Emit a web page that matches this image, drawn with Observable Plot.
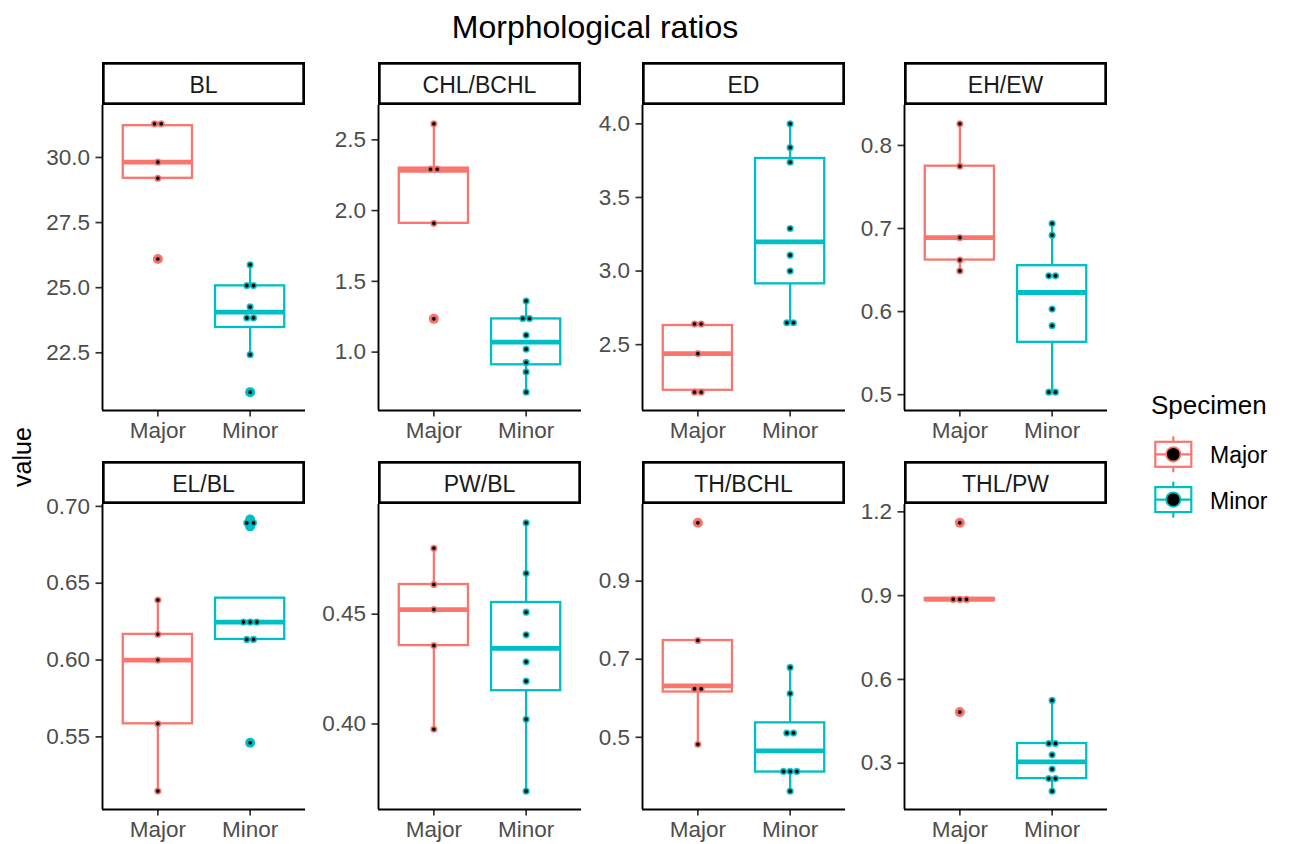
<!DOCTYPE html>
<html><head><meta charset="utf-8">
<script src="https://cdn.jsdelivr.net/npm/d3@7"></script>
<script src="https://cdn.jsdelivr.net/npm/@observablehq/plot@0.6"></script>
<style>
body{margin:0;background:#fff;}
#chart{position:relative;width:1292px;height:844px;background:#fff;font-family:"Liberation Sans",Arial,Helvetica,sans-serif;overflow:hidden}
#chart > .layer{position:absolute;left:0;top:0}
#chart > .panel{position:absolute}
#chart svg{background:transparent;overflow:visible}
</style></head><body><div id="chart"></div>
<script>
// ---------- data ----------
const specimens = ["Major", "Minor"];
const specimenColors = ["#F8766D", "#00BFC4"];
const ratioNames = ["BL", "CHL/BCHL", "ED", "EH/EW", "EL/BL", "PW/BL", "TH/BCHL", "THL/PW"];

const BL_major = [26.1, 29.2, 29.82, 31.22, 31.36];
const BL_minor = [20.99, 22.43, 23.82, 23.86, 24.26, 25.06, 25.1, 25.88];
const CHL_BCHL_major = [1.235, 1.91, 2.285, 2.30, 2.613];
const CHL_BCHL_minor = [0.717, 0.860, 0.927, 1.021, 1.120, 1.232, 1.242, 1.361];
const ED_major = [2.165, 2.19, 2.439, 2.63, 2.65];
const ED_minor = [2.645, 2.653, 3.0, 3.108, 3.289, 3.740, 3.839, 4.0];
const EH_EW_major = [0.649, 0.662, 0.689, 0.775, 0.826];
const EH_EW_minor = [0.503, 0.503, 0.583, 0.603, 0.643, 0.643, 0.692, 0.706];
const EL_BL_major = [0.5147, 0.5585, 0.600, 0.6167, 0.639];
const EL_BL_minor = [0.5462, 0.6134, 0.6134, 0.6247, 0.6247, 0.6247, 0.687, 0.6915];
const PW_BL_major = [0.3976, 0.4357, 0.4521, 0.4635, 0.480];
const PW_BL_minor = [0.3694, 0.4021, 0.4195, 0.4283, 0.4406, 0.4509, 0.4686, 0.4916];
const TH_BCHL_major = [0.482, 0.616, 0.632, 0.748, 1.0495];
const TH_BCHL_minor = [0.362, 0.405, 0.413, 0.42, 0.51, 0.512, 0.612, 0.679];
const THL_PW_major = [0.483, 0.883, 0.887, 0.890, 1.1606];
const THL_PW_minor = [0.200, 0.245, 0.245, 0.279, 0.330, 0.3706, 0.3706, 0.525];

const BL_ticks = ["22.5", "25.0", "27.5", "30.0"];
const CHL_BCHL_ticks = ["1.0", "1.5", "2.0", "2.5"];
const ED_ticks = ["2.5", "3.0", "3.5", "4.0"];
const EH_EW_ticks = ["0.5", "0.6", "0.7", "0.8"];
const EL_BL_ticks = ["0.55", "0.60", "0.65", "0.70"];
const PW_BL_ticks = ["0.40", "0.45"];
const TH_BCHL_ticks = ["0.5", "0.7", "0.9"];
const THL_PW_ticks = ["0.3", "0.6", "0.9", "1.2"];

const chartTitle = "Morphological ratios";
const yLabel = "value";
const legendTitle = "Specimen";

// ---------- layout ----------
const colLeft = [102, 378, 642, 904];
const panelW = 203;
const plotTop = [105, 504];
const panelH = 305;
const stripH = 43;
const mL = 75, mR = 5, mT = 5, mB = 45;
const font = '"Liberation Sans", Arial, Helvetica, sans-serif';

const panels = [
  [BL_major, BL_minor, BL_ticks],
  [CHL_BCHL_major, CHL_BCHL_minor, CHL_BCHL_ticks],
  [ED_major, ED_minor, ED_ticks],
  [EH_EW_major, EH_EW_minor, EH_EW_ticks],
  [EL_BL_major, EL_BL_minor, EL_BL_ticks],
  [PW_BL_major, PW_BL_minor, PW_BL_ticks],
  [TH_BCHL_major, TH_BCHL_minor, TH_BCHL_ticks],
  [THL_PW_major, THL_PW_minor, THL_PW_ticks]
].map(([major, minor, ticks], i) => ({name: ratioNames[i], groups: [major, minor], ticks}));

function boxStats(vals) {
  const s = vals.slice().sort(d3.ascending);
  const q1 = d3.quantile(s, 0.25), med = d3.quantile(s, 0.5), q3 = d3.quantile(s, 0.75);
  const iqr = q3 - q1, lof = q1 - 1.5 * iqr, hif = q3 + 1.5 * iqr;
  const inside = s.filter(v => v >= lof && v <= hif);
  return {q1, med, q3, lo: d3.min(inside), hi: d3.max(inside), outliers: s.filter(v => v < lof || v > hif)};
}
function dotBins(vals, bw) {
  const s = vals.slice().sort(d3.ascending);
  const bins = []; let end = -Infinity;
  for (const v of s) {
    if (v >= end) { bins.push([]); end = v + bw; }
    bins[bins.length - 1].push(v);
  }
  return bins.map(b => ({center: (b[0] + b[b.length - 1]) / 2, n: b.length}));
}

const chart = document.getElementById("chart");

// background layer: title, strips, y label, legend
const W = 1292, H = 844;
const layer = d3.create("svg").attr("class", "layer").attr("width", W).attr("height", H)
  .style("font-family", font);
layer.append("text").attr("x", 595).attr("y", 38).attr("text-anchor", "middle")
  .attr("font-size", 32).attr("fill", "#000").text(chartTitle);
layer.append("text").attr("transform", "translate(31,457) rotate(-90)").attr("text-anchor", "middle")
  .attr("font-size", 25).attr("fill", "#000").text(yLabel);

panels.forEach((p, i) => {
  const col = i % 4, row = Math.floor(i / 4);
  const x0 = colLeft[col], y0 = plotTop[row] - stripH;
  const sw = 2.7;
  layer.append("rect").attr("x", x0 + sw / 2).attr("y", y0 + sw / 2)
    .attr("width", panelW - sw).attr("height", stripH - sw)
    .attr("fill", "#fff").attr("stroke", "#000").attr("stroke-width", sw);
  layer.append("text").attr("x", x0 + panelW / 2).attr("y", y0 + stripH / 2 + 1)
    .attr("text-anchor", "middle").attr("dominant-baseline", "central")
    .attr("font-size", 23).attr("fill", "#1a1a1a").text(p.name);
});

// legend
layer.append("text").attr("x", 1151).attr("y", 414).attr("font-size", 26).attr("fill", "#000").text(legendTitle);
specimens.forEach((s, i) => {
  const cx = 1173.3, cy = 454.3 + i * 45.3, c = specimenColors[i];
  const g = layer.append("g");
  g.append("line").attr("x1", cx).attr("x2", cx).attr("y1", cy - 18).attr("y2", cy + 18)
    .attr("stroke", c).attr("stroke-width", 2.2);
  g.append("rect").attr("x", cx - 18).attr("y", cy - 12.5).attr("width", 36).attr("height", 25)
    .attr("fill", "#fff").attr("stroke", c).attr("stroke-width", 2.2);
  g.append("line").attr("x1", cx - 18).attr("x2", cx + 18).attr("y1", cy).attr("y2", cy)
    .attr("stroke", c).attr("stroke-width", 2.2);
  g.append("circle").attr("cx", cx).attr("cy", cy).attr("r", 7.2)
    .attr("fill", "#000").attr("stroke", c).attr("stroke-width", 1.8);
  layer.append("text").attr("x", 1210).attr("y", cy + 1).attr("dominant-baseline", "central")
    .attr("font-size", 23).attr("fill", "#000").text(s);
});
chart.appendChild(layer.node());

// panels
const pxPerX = panelW / 2.2;
const dotSpacing = 6.7 / pxPerX;
const halfBox = 0.375;

panels.forEach((p, i) => {
  const col = i % 4, row = Math.floor(i / 4);
  const all = p.groups.flat();
  const bw = (d3.max(all) - d3.min(all)) / 30;
  const stats = [], outliers = [], dots = [];
  let lo = d3.min(all), hi = d3.max(all);
  p.groups.forEach((vals, gi) => {
    const st = boxStats(vals);
    stats.push({...st, g: gi + 1, specimen: specimens[gi]});
    st.outliers.forEach(v => outliers.push({g: gi + 1, v, specimen: specimens[gi]}));
    dotBins(vals, bw).forEach(b => {
      lo = Math.min(lo, b.center - bw / 2); hi = Math.max(hi, b.center + bw / 2);
      for (let k = 0; k < b.n; k++) {
        dots.push({x: gi + 1 + (k - (b.n - 1) / 2) * dotSpacing, y: b.center, specimen: specimens[gi]});
      }
    });
  });
  const pad = (hi - lo) * 0.05;
  const yDomain = [lo - pad, hi + pad];
  const tickVals = p.ticks.map(Number);
  const tickFmt = v => p.ticks[tickVals.indexOf(v)];

  const plot = Plot.plot({
    width: mL + panelW + mR,
    height: mT + panelH + mB,
    marginLeft: mL, marginRight: mR, marginTop: mT, marginBottom: mB,
    style: {fontFamily: font, background: "transparent", overflow: "visible"},
    x: {domain: [0.4, 2.6], axis: null},
    y: {domain: yDomain, axis: null},
    color: {domain: specimens, range: specimenColors},
    marks: [
      Plot.axisY(tickVals, {tickFormat: tickFmt, tickSize: 6.5, tickPadding: 6, fontSize: 22.5,
        fill: "#4d4d4d", stroke: "#333333", strokeWidth: 1.7, label: null}),
      Plot.axisX([1, 2], {tickFormat: d => specimens[d - 1], tickSize: 6.5, tickPadding: 5, fontSize: 22.5,
        fill: "#4d4d4d", stroke: "#333333", strokeWidth: 1.7, label: null}),
      Plot.ruleX(stats, {x: "g", y1: "lo", y2: "q1", stroke: "specimen", strokeWidth: 2.3}),
      Plot.ruleX(stats, {x: "g", y1: "q3", y2: "hi", stroke: "specimen", strokeWidth: 2.3}),
      Plot.rect(stats, {x1: d => d.g - halfBox, x2: d => d.g + halfBox, y1: "q1", y2: "q3",
        fill: "white", stroke: "specimen", strokeWidth: 2.3}),
      Plot.ruleY(stats, {y: "med", x1: d => d.g - halfBox, x2: d => d.g + halfBox,
        stroke: "specimen", strokeWidth: 4.8}),
      Plot.dot(outliers, {x: "g", y: "v", r: 5, fill: "specimen", stroke: null}),
      Plot.dot(dots, {x: "x", y: "y", r: 2.7, fill: "black", stroke: "specimen",
        strokeWidth: 1.8, strokeOpacity: 0.85}),
      Plot.ruleX([0.4], {stroke: "#000", strokeWidth: 1.9}),
      Plot.ruleY([yDomain[0]], {stroke: "#000", strokeWidth: 1.9})
    ]
  });
  const holder = document.createElement("div");
  holder.className = "panel";
  holder.style.left = (colLeft[col] - mL) + "px";
  holder.style.top = (plotTop[row] - mT) + "px";
  holder.appendChild(plot);
  chart.appendChild(holder);
});
</script>
</body></html>
